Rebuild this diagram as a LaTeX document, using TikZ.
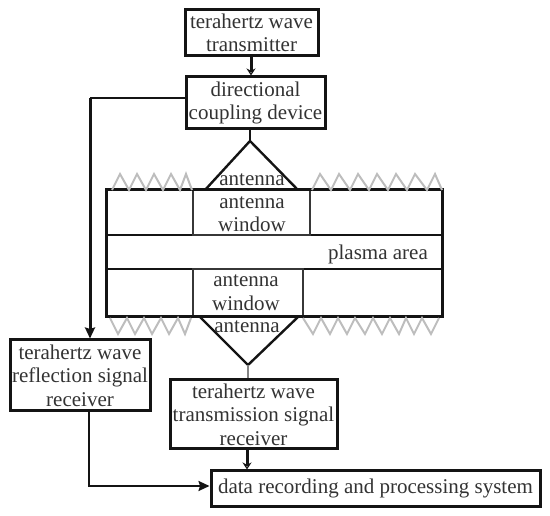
\documentclass[tikz,border=0pt]{standalone}
\usepackage{fontspec}
\setmainfont{Liberation Serif}
\usetikzlibrary{arrows.meta}
\definecolor{ink}{HTML}{141414}
\definecolor{txt}{HTML}{333333}
\definecolor{zig}{HTML}{BDBDBD}
\tikzset{
  x=1pt,y=-1pt,
  box/.style={draw=ink,line width=3pt,fill=white,inner sep=0pt,align=center,text=txt,
     font=\fontsize{21}{23.5}\selectfont},
  lbl/.style={inner sep=0pt,align=center,text=txt,font=\fontsize{21}{23.5}\selectfont},
  thin box/.style={draw=ink!85,line width=1.6pt},
  heavy/.style={draw=ink,line width=3pt},
  medium/.style={draw=ink,line width=2pt},
  zigzag/.style={draw=zig,line width=2pt,line join=miter},
  filled tip/.style={-{Stealth[length=11pt,width=10pt,inset=1.5pt]}},
  open tip/.style={-{Stealth[open,length=7pt,width=9pt,fill=white,line width=1.4pt]}},
}
\begin{document}
\begin{tikzpicture}
\useasboundingbox (0,0) rectangle (550,516);
% plasma chamber
\coordinate (pTL) at (106,190); \coordinate (pTR) at (442,190);
\coordinate (pBL) at (106,317); \coordinate (pBR) at (442,317);
\draw[medium] (106,235) -- (442,235);
\draw[medium] (106,269) -- (442,269);
\draw[thin box] (193,190) rectangle (310,235);
\draw[thin box] (193,269) rectangle (303,317);
\draw[heavy] (pTL) -- (pTR) -- (pBR) -- (pBL) -- cycle;
% zigzags
\draw[zigzag] (112,190) -- (120,174) -- (129,190) -- (137,174) -- (146,190) -- (154,174) -- (163,190) -- (171,174) -- (180,190) -- (186,174) -- (192,190);
\draw[zigzag] (312,190) -- (320,174) -- (331,190) -- (339,174) -- (350,190) -- (358,174) -- (369,190) -- (377,174) -- (388,190) -- (396,174) -- (407,190) -- (415,174) -- (427,190) -- (435,174) -- (442,190);
\draw[zigzag] (110,318) -- (118,334) -- (127,318) -- (135,334) -- (144,318) -- (152,334) -- (161,318) -- (169,334) -- (178,318) -- (185,334) -- (191,318);
\draw[zigzag] (303,318) -- (313,334) -- (321,318) -- (330,334) -- (338,318) -- (347,334) -- (355,318) -- (365,334) -- (373,318) -- (382,334) -- (390,318) -- (399,334) -- (406,318) -- (414,334) -- (422,318) -- (431,334) -- (439,318);
% antennas
\coordinate (topApex) at (250,141);
\coordinate (botApex) at (248,365);
\draw[medium,line width=2.4pt,line join=miter] (205,190) -- (topApex) -- (298,190);
\draw[medium,line width=2.4pt,line join=miter] (200,317) -- (botApex) -- (298,317);
% boxes
\node[box,minimum width=133pt,minimum height=46pt] (tx) at (251.5,33) {terahertz wave\\transmitter};
\node[box,minimum width=139pt,minimum height=52pt] (dc) at (255.5,103) {directional\\coupling device};
\node[box,minimum width=140pt,minimum height=71pt] (rr) at (80,375.5) {terahertz wave\\reflection signal\\receiver};
\node[box,minimum width=167pt,minimum height=69pt] (tr) at (253.5,414.5) {terahertz wave\\transmission signal\\receiver};
\node[box,minimum width=329pt,minimum height=35pt] (dp) at (375.5,488.5) {data recording and processing system};
% texts inside the chamber
\node[lbl] (a1) at (252,180) {antenna};
\node[lbl] (w1) at (252,214) {antenna\\window};
\node[lbl] (pl) at (378,254) {plasma area};
\node[lbl] (w2) at (246,292.5) {antenna\\window};
\node[lbl] (a2) at (247,327) {antenna};
% connectors
\draw[heavy,open tip] (tx.south -| 251,56) -- (dc.north -| 251,77);
\draw[medium] (dc.south -| 250,129) -- (topApex);
\coordinate (branch) at (90,98);
\draw[medium] (dc.west |- branch) -- (branch);
\draw[heavy,filled tip] (branch) -- (rr.north -| branch);
\draw[draw=zig!70!black,line width=1.4pt] (botApex) -- (tr.north -| botApex);
\draw[heavy,open tip] (tr.south -| 247,449) -- (dp.north -| 247,471);
\coordinate (elbow) at (89,486);
\draw[medium,filled tip] (rr.south -| elbow) -- (elbow) -- (dp.west |- elbow);
\end{tikzpicture}
\end{document}
